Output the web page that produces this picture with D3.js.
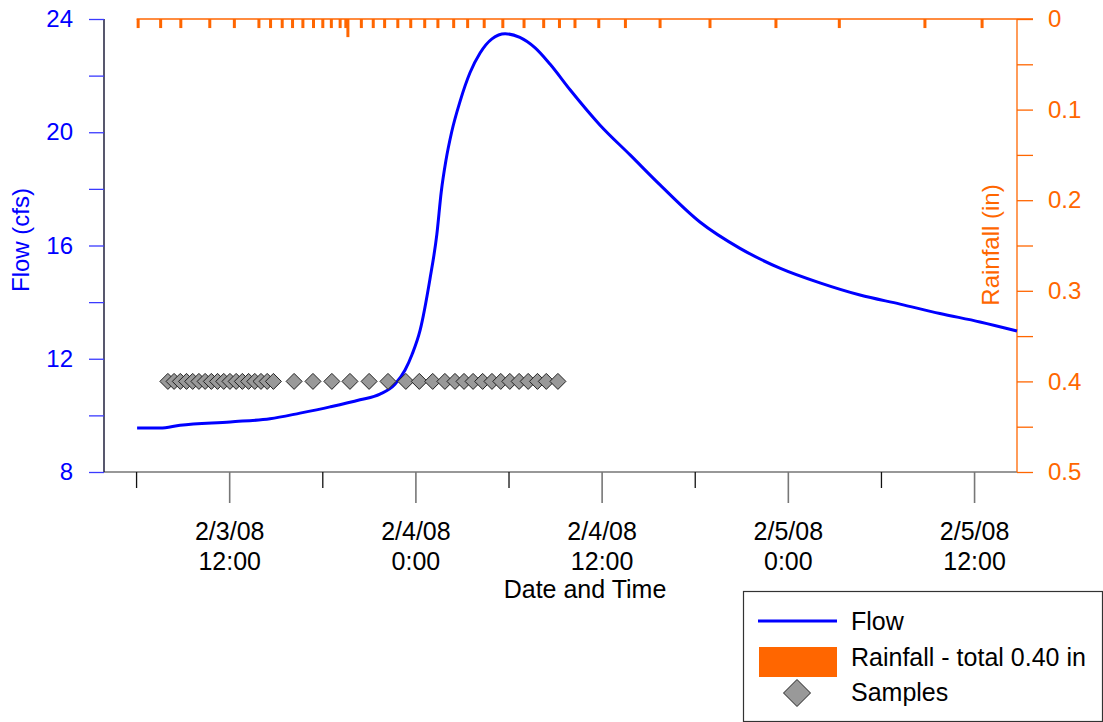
<!DOCTYPE html>
<html><head><meta charset="utf-8">
<script src="https://cdn.jsdelivr.net/npm/d3@7"></script>
<style>body{margin:0;background:#fff} svg{display:block;font-family:"Liberation Sans",Arial,sans-serif}</style>
</head><body><svg id="c" width="1103" height="722"></svg>
<script>
// ---- data ----
const flowTimes = ["2008-02-03 06:04","2008-02-03 07:33","2008-02-03 08:50","2008-02-03 12:04","2008-02-03 14:38","2008-02-03 16:34","2008-02-03 18:30","2008-02-03 20:26","2008-02-03 21:43","2008-02-03 22:41","2008-02-03 23:20","2008-02-03 23:47","2008-02-04 00:18","2008-02-04 00:56","2008-02-04 01:23","2008-02-04 01:40","2008-02-04 01:58","2008-02-04 02:20","2008-02-04 02:53","2008-02-04 03:31","2008-02-04 04:10","2008-02-04 04:56","2008-02-04 05:47","2008-02-04 06:44","2008-02-04 07:43","2008-02-04 08:41","2008-02-04 09:58","2008-02-04 11:54","2008-02-04 13:50","2008-02-04 15:46","2008-02-04 18:20","2008-02-04 20:55","2008-02-04 23:29","2008-02-05 02:04","2008-02-05 04:39","2008-02-05 07:14","2008-02-05 09:48","2008-02-05 12:23","2008-02-05 14:46"];
const flowValues = [9.55,9.55,9.65,9.77,9.88,10.08,10.3,10.55,10.75,11.1,11.6,12.15,13.0,14.8,16.4,17.9,19.0,20.0,21.1,22.1,22.8,23.3,23.48,23.35,22.98,22.4,21.5,20.25,19.2,18.14,16.83,15.9,15.2,14.68,14.25,13.93,13.6,13.3,12.98];

const rainTimes = ["2008-02-03 06:08","2008-02-03 07:35","2008-02-03 08:53","2008-02-03 10:45","2008-02-03 12:20","2008-02-03 13:55","2008-02-03 14:40","2008-02-03 15:25","2008-02-03 16:05","2008-02-03 16:45","2008-02-03 17:26","2008-02-03 18:02","2008-02-03 18:35","2008-02-03 19:09","2008-02-03 19:31","2008-02-03 19:39","2008-02-03 20:31","2008-02-03 21:17","2008-02-03 22:01","2008-02-03 22:52","2008-02-03 23:42","2008-02-04 00:36","2008-02-04 01:27","2008-02-04 02:28","2008-02-04 03:22","2008-02-04 04:26","2008-02-04 05:38","2008-02-04 07:00","2008-02-04 08:16","2008-02-04 09:17","2008-02-04 10:17","2008-02-04 11:49","2008-02-04 13:32","2008-02-04 15:46","2008-02-04 18:59","2008-02-04 23:14","2008-02-05 03:19","2008-02-05 08:50","2008-02-05 12:31"];
const rainValues = [0.01,0.01,0.01,0.01,0.01,0.01,0.01,0.01,0.01,0.01,0.01,0.01,0.01,0.01,0.01,0.02,0.01,0.01,0.01,0.01,0.01,0.01,0.01,0.01,0.01,0.01,0.01,0.01,0.01,0.01,0.01,0.01,0.01,0.01,0.01,0.01,0.01,0.01,0.01];

const sampleTimes = ["2008-02-03 08:03","2008-02-03 08:27","2008-02-03 08:51","2008-02-03 09:15","2008-02-03 09:39","2008-02-03 10:03","2008-02-03 10:27","2008-02-03 10:51","2008-02-03 11:15","2008-02-03 11:39","2008-02-03 12:03","2008-02-03 12:27","2008-02-03 12:51","2008-02-03 13:15","2008-02-03 13:39","2008-02-03 14:03","2008-02-03 14:27","2008-02-03 14:51","2008-02-03 16:11","2008-02-03 17:24","2008-02-03 18:37","2008-02-03 19:47","2008-02-03 21:01","2008-02-03 22:14","2008-02-03 23:23","2008-02-04 00:15","2008-02-04 01:07","2008-02-04 01:54","2008-02-04 02:33","2008-02-04 03:08","2008-02-04 03:43","2008-02-04 04:20","2008-02-04 04:56","2008-02-04 05:30","2008-02-04 06:05","2008-02-04 06:41","2008-02-04 07:16","2008-02-04 07:52","2008-02-04 08:26","2008-02-04 09:11"];
const sampleLevel = 11.2;

const xDomain = ["2008-02-03 03:56","2008-02-05 14:46"];
const xMajorTicks = ["2008-02-03 12:00","2008-02-04 00:00","2008-02-04 12:00","2008-02-05 00:00","2008-02-05 12:00"];
const xMinorTicks = ["2008-02-03 06:00","2008-02-03 18:00","2008-02-04 06:00","2008-02-04 18:00","2008-02-05 06:00"];
const xTickLabels = [["2/3/08","12:00"],["2/4/08","0:00"],["2/4/08","12:00"],["2/5/08","0:00"],["2/5/08","12:00"]];
const flowTicks = [8,10,12,14,16,18,20,22,24];
const flowLabelTicks = [8,12,16,20,24];
const rainTicks = [0,0.05,0.1,0.15,0.2,0.25,0.3,0.35,0.4,0.45,0.5];
const rainLabelTicks = [0,0.1,0.2,0.3,0.4,0.5];
const legendLabels = ["Flow","Rainfall - total 0.40 in","Samples"];

// ---- layout ----
const L = 104, R = 1017, T = 19, B = 472;
const FS = 24, FS2 = 25;
const BLUE = "#0000ff", ORANGE = "#ff6600";
const parse = d3.timeParse("%Y-%m-%d %H:%M");
const svg = d3.select("#c");

const x = d3.scaleTime().domain(xDomain.map(parse)).range([L, R]);
const yF = d3.scaleLinear().domain([8, 24]).range([B, T]);
const yR = d3.scaleLinear().domain([0, 0.5]).range([T, B]);

// rainfall baseline + bars
const rainData = rainTimes.map((t, i) => ({t: parse(t), v: rainValues[i]}));
svg.append("line").attr("x1", x(rainData[0].t) - 1.5).attr("x2", R + 16)
  .attr("y1", yR(0)).attr("y2", yR(0)).attr("stroke", ORANGE).attr("stroke-width", 1.5);
svg.append("g").selectAll("rect").data(rainData).join("rect")
  .attr("x", d => x(d.t) - 1.5).attr("width", 3)
  .attr("y", yR(0)).attr("height", d => yR(d.v) - yR(0))
  .attr("fill", ORANGE);

// bottom frame line
svg.append("line").attr("x1", L).attr("x2", R).attr("y1", B).attr("y2", B)
  .attr("stroke", "#333").attr("stroke-width", 1.2);

// left axis
const gL = svg.append("g").attr("transform", `translate(${L},0)`)
  .call(d3.axisLeft(yF).tickValues(flowTicks).tickSize(15).tickPadding(16)
    .tickFormat(d => flowLabelTicks.includes(d) ? d : ""));
gL.select(".domain").attr("stroke", "#101030").attr("stroke-width", 1.4).attr("d", `M0,${T}V${B}`);
gL.selectAll(".tick line").attr("stroke", "#3a3aff").attr("stroke-width", 1.3);
gL.selectAll(".tick text").attr("fill", BLUE).style("font-size", FS + "px").style("font-family", "Liberation Sans, Arial, sans-serif");

// right axis
const gR = svg.append("g").attr("transform", `translate(${R},0)`)
  .call(d3.axisRight(yR).tickValues(rainTicks).tickSize(16).tickPadding(15)
    .tickFormat(d => rainLabelTicks.some(v => Math.abs(v - d) < 1e-9) ? d3.format("~g")(d) : ""));
gR.select(".domain").attr("stroke", ORANGE).attr("stroke-width", 1.3).attr("d", `M0,${T}V${B}`);
gR.selectAll(".tick line").attr("stroke", ORANGE).attr("stroke-width", 1.3);
gR.selectAll(".tick text").attr("fill", ORANGE).style("font-size", FS + "px").style("font-family", "Liberation Sans, Arial, sans-serif");

// x axis: minor and major ticks
const gXm = svg.append("g").attr("transform", `translate(0,${B})`)
  .call(d3.axisBottom(x).tickValues(xMinorTicks.map(parse)).tickSize(16).tickFormat(""));
gXm.select(".domain").remove();
gXm.selectAll(".tick line").attr("stroke", "#111").attr("stroke-width", 1.3);

const gXM = svg.append("g").attr("transform", `translate(0,${B})`)
  .call(d3.axisBottom(x).tickValues(xMajorTicks.map(parse)).tickSize(31).tickFormat(""));
gXM.select(".domain").remove();
gXM.selectAll(".tick line").attr("stroke", "#777").attr("stroke-width", 1.6);
gXM.selectAll(".tick").each(function(d, i) {
  const t = d3.select(this).append("text").attr("fill", "#000").attr("text-anchor", "middle")
    .style("font-size", FS2 + "px").style("font-family", "Liberation Sans, Arial, sans-serif");
  t.append("tspan").attr("x", 0).attr("y", 68).text(xTickLabels[i][0]);
  t.append("tspan").attr("x", 0).attr("y", 98).text(xTickLabels[i][1]);
});

// axis titles
svg.append("text").attr("x", 585).attr("y", 598).attr("text-anchor", "middle")
  .style("font-size", FS2 + "px").attr("fill", "#000").text("Date and Time");
svg.append("text").attr("transform", "translate(29,240) rotate(-90)").attr("text-anchor", "middle")
  .style("font-size", FS + "px").attr("fill", BLUE).text("Flow (cfs)");
svg.append("text").attr("transform", "translate(999,245) rotate(-90)").attr("text-anchor", "middle")
  .style("font-size", FS + "px").attr("fill", ORANGE).text("Rainfall (in)");

// flow line
const flowData = flowTimes.map((t, i) => ({t: parse(t), v: flowValues[i]}));
svg.append("path").datum(flowData)
  .attr("d", d3.line().x(d => x(d.t)).y(d => yF(d.v)).curve(d3.curveMonotoneX))
  .attr("fill", "none").attr("stroke", BLUE).attr("stroke-width", 3);

// samples
const dpath = s => `M0,${-s}L${s},0L0,${s}L${-s},0Z`;
svg.append("g").selectAll("path").data(sampleTimes.map(parse)).join("path")
  .attr("transform", d => `translate(${x(d)},${yF(sampleLevel)})`)
  .attr("d", dpath(8)).attr("fill", "#999").attr("stroke", "#222").attr("stroke-width", 1);

// legend
const lg = svg.append("g");
lg.append("rect").attr("x", 743.5).attr("y", 591.5).attr("width", 359).attr("height", 130)
  .attr("fill", "#fff").attr("stroke", "#333").attr("stroke-width", 1.2);
lg.append("line").attr("x1", 758).attr("x2", 837).attr("y1", 621).attr("y2", 621)
  .attr("stroke", BLUE).attr("stroke-width", 3);
lg.append("rect").attr("x", 759).attr("y", 647).attr("width", 78).attr("height", 30).attr("fill", ORANGE);
lg.append("path").attr("transform", "translate(797,693)").attr("d", dpath(13.5))
  .attr("fill", "#999").attr("stroke", "#222").attr("stroke-width", 1);
[630, 666, 701].forEach((yy, i) => {
  lg.append("text").attr("x", 851).attr("y", yy).style("font-size", FS2 + "px").attr("fill", "#000").text(legendLabels[i]);
});
</script></body></html>
